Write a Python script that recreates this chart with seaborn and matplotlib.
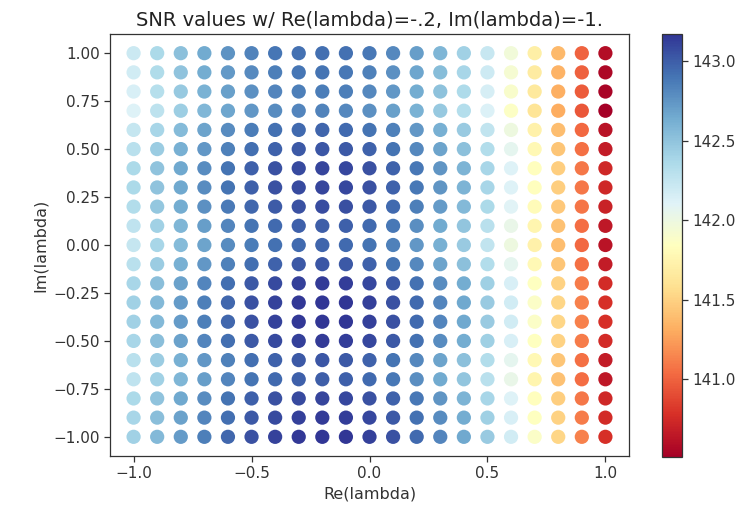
import numpy as np
import pandas as pd
import matplotlib
matplotlib.use("Agg")
import matplotlib.pyplot as plt
import seaborn as sns

re_vals = [-1.0, -0.9, -0.8, -0.7, -0.6, -0.5, -0.4, -0.3, -0.2, -0.1, 0.0,
           0.1, 0.2, 0.3, 0.4, 0.5, 0.6, 0.7, 0.8, 0.9, 1.0]
im_vals = [1.0, 0.9, 0.8, 0.7, 0.6, 0.5, 0.4, 0.3, 0.2, 0.1, 0.0,
           -0.1, -0.2, -0.3, -0.4, -0.5, -0.6, -0.7, -0.8, -0.9, -1.0]

# SNR grid: one row per Im value (top to bottom), one column per Re value
snr_rows = [
    [142.21, 142.36, 142.52, 142.65, 142.76, 142.83, 142.89, 142.92, 142.93, 142.92, 142.88, 142.81, 142.71, 142.58, 142.42, 142.23, 141.96, 141.70, 141.37, 141.00, 140.59],
    [142.18, 142.34, 142.50, 142.63, 142.73, 142.80, 142.85, 142.89, 142.90, 142.88, 142.84, 142.77, 142.67, 142.54, 142.39, 142.20, 141.93, 141.67, 141.34, 140.99, 140.56],
    [142.15, 142.31, 142.47, 142.60, 142.70, 142.77, 142.82, 142.85, 142.86, 142.85, 142.81, 142.74, 142.64, 142.51, 142.35, 142.16, 141.90, 141.65, 141.32, 140.97, 140.54],
    [142.12, 142.28, 142.44, 142.57, 142.67, 142.74, 142.79, 142.82, 142.83, 142.81, 142.77, 142.70, 142.60, 142.47, 142.32, 142.13, 141.87, 141.62, 141.30, 140.95, 140.51],
    [142.24, 142.39, 142.55, 142.68, 142.79, 142.86, 142.92, 142.95, 142.97, 142.95, 142.91, 142.84, 142.74, 142.61, 142.46, 142.26, 141.99, 141.72, 141.39, 141.02, 140.62],
    [142.30, 142.45, 142.61, 142.74, 142.84, 142.93, 142.98, 143.02, 143.03, 143.02, 142.98, 142.91, 142.81, 142.68, 142.52, 142.33, 142.06, 141.78, 141.43, 141.06, 140.67],
    [142.36, 142.50, 142.66, 142.79, 142.90, 142.99, 143.05, 143.08, 143.10, 143.09, 143.05, 142.98, 142.88, 142.75, 142.59, 142.39, 142.12, 141.83, 141.48, 141.09, 140.73],
    [142.36, 142.50, 142.66, 142.79, 142.90, 142.99, 143.05, 143.08, 143.10, 143.09, 143.05, 142.98, 142.88, 142.75, 142.59, 142.39, 142.12, 141.83, 141.48, 141.09, 140.73],
    [142.33, 142.48, 142.64, 142.77, 142.87, 142.96, 143.01, 143.05, 143.07, 143.06, 143.02, 142.95, 142.85, 142.72, 142.56, 142.36, 142.09, 141.80, 141.45, 141.08, 140.70],
    [142.27, 142.42, 142.58, 142.71, 142.82, 142.90, 142.95, 142.99, 143.00, 142.99, 142.95, 142.88, 142.78, 142.65, 142.49, 142.30, 142.03, 141.75, 141.41, 141.04, 140.65],
    [142.24, 142.39, 142.55, 142.68, 142.79, 142.86, 142.92, 142.95, 142.97, 142.95, 142.91, 142.84, 142.74, 142.61, 142.46, 142.26, 141.99, 141.72, 141.39, 141.02, 140.62],
    [142.30, 142.45, 142.61, 142.74, 142.84, 142.93, 142.98, 143.02, 143.03, 143.02, 142.98, 142.91, 142.81, 142.68, 142.52, 142.33, 142.06, 141.78, 141.43, 141.06, 140.67],
    [142.39, 142.53, 142.69, 142.82, 142.93, 143.02, 143.08, 143.12, 143.14, 143.13, 143.09, 143.02, 142.92, 142.79, 142.63, 142.43, 142.15, 141.85, 141.50, 141.11, 140.75],
    [142.42, 142.56, 142.72, 142.85, 142.96, 143.05, 143.11, 143.15, 143.17, 143.16, 143.12, 143.05, 142.95, 142.82, 142.66, 142.46, 142.18, 141.88, 141.52, 141.13, 140.78],
    [142.42, 142.56, 142.72, 142.85, 142.96, 143.05, 143.11, 143.15, 143.17, 143.16, 143.12, 143.05, 142.95, 142.82, 142.66, 142.46, 142.18, 141.88, 141.52, 141.13, 140.78],
    [142.39, 142.53, 142.69, 142.82, 142.93, 143.02, 143.08, 143.12, 143.14, 143.13, 143.09, 143.02, 142.92, 142.79, 142.63, 142.43, 142.15, 141.85, 141.50, 141.11, 140.75],
    [142.30, 142.45, 142.61, 142.74, 142.84, 142.93, 142.98, 143.02, 143.03, 143.02, 142.98, 142.91, 142.81, 142.68, 142.52, 142.33, 142.06, 141.78, 141.43, 141.06, 140.67],
    [142.27, 142.42, 142.58, 142.71, 142.82, 142.90, 142.95, 142.99, 143.00, 142.99, 142.95, 142.88, 142.78, 142.65, 142.49, 142.30, 142.03, 141.75, 141.41, 141.04, 140.65],
    [142.36, 142.50, 142.66, 142.79, 142.90, 142.99, 143.05, 143.08, 143.10, 143.09, 143.05, 142.98, 142.88, 142.75, 142.59, 142.39, 142.12, 141.83, 141.48, 141.09, 140.73],
    [142.39, 142.53, 142.69, 142.82, 142.93, 143.02, 143.08, 143.12, 143.14, 143.13, 143.09, 143.02, 142.92, 142.79, 142.63, 142.43, 142.15, 141.85, 141.50, 141.11, 140.75],
    [142.42, 142.56, 142.72, 142.85, 142.96, 143.05, 143.11, 143.15, 143.17, 143.16, 143.12, 143.05, 142.95, 142.82, 142.66, 142.46, 142.18, 141.88, 141.52, 141.13, 140.78],
]

x_ticks = [-1.0, -0.5, 0.0, 0.5, 1.0]
y_ticks = [-1.0, -0.75, -0.5, -0.25, 0.0, 0.25, 0.5, 0.75, 1.0]
cbar_ticks = [141.0, 141.5, 142.0, 142.5, 143.0]

records = []
for yi, row in zip(im_vals, snr_rows):
    for xi, v in zip(re_vals, row):
        records.append({"re": xi, "im": yi, "snr": v})
df = pd.DataFrame(records)

sns.set_style("white")
plt.rcParams["font.family"] = ["DejaVu Sans"]

fig = plt.figure(figsize=(7.49, 5.18), dpi=100)
ax = fig.add_axes([110 / 749, 1 - 456 / 518, (629 - 110) / 749, (456 - 34) / 518])
cax = fig.add_axes([662 / 749, 1 - 457 / 518, 20 / 749, (457 - 34) / 518])

vmin, vmax = df["snr"].min(), df["snr"].max()
norm = matplotlib.colors.Normalize(vmin=vmin, vmax=vmax)
sns.scatterplot(data=df, x="re", y="im", hue="snr", palette="RdYlBu",
                hue_norm=norm, s=105, linewidth=0, legend=False, ax=ax)

ax.set_xlim(-1.1, 1.1)
ax.set_ylim(-1.1, 1.1)
ax.set_xticks(x_ticks)
ax.set_xticklabels([f"{t:.1f}".replace("-", "\u2212") for t in x_ticks])
ax.set_yticks(y_ticks)
ax.set_yticklabels([f"{t:.2f}".replace("-", "\u2212") for t in y_ticks])
for s in ax.spines.values():
    s.set_visible(True)
    s.set_color("#333333")
    s.set_linewidth(0.9)
ax.tick_params(axis="both", which="both", direction="out", length=4, width=0.9,
               color="#333333", labelsize=11, labelcolor="#333333",
               bottom=True, left=True)
ax.set_xlabel("Re(lambda)", fontsize=11.5, color="#333333")
ax.set_ylabel("Im(lambda)", fontsize=11.5, color="#333333")
ax.set_title("SNR values w/ Re(lambda)=-.2, Im(lambda)=-1.", fontsize=14, color="#222222")

sm = matplotlib.cm.ScalarMappable(norm=norm, cmap="RdYlBu")
cb = fig.colorbar(sm, cax=cax)
cb.set_ticks(cbar_ticks)
cb.ax.tick_params(labelsize=11, length=4, width=0.9, color="#333333", labelcolor="#333333")
cb.outline.set_edgecolor("#333333")
cb.outline.set_linewidth(0.9)

fig.savefig("out.png", dpi=100)
